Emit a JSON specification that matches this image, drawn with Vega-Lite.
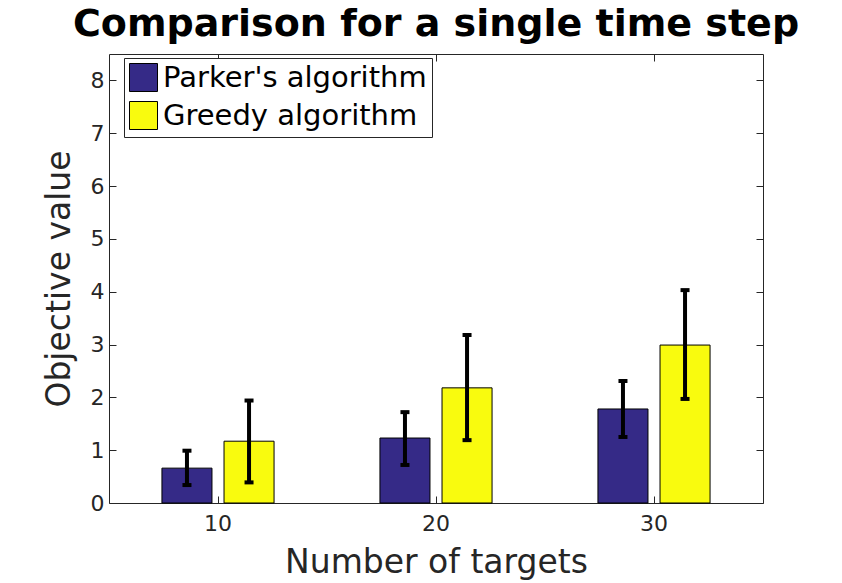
{
  "$schema": "https://vega.github.io/schema/vega-lite/v6.json",
  "width": 654,
  "height": 449,
  "autosize": {"type": "none"},
  "padding": {"left": 109, "top": 54, "right": 79, "bottom": 80},
  "background": "white",
  "config": {
    "font": "DejaVu Sans",
    "view": {"stroke": "#262626", "strokeWidth": 1},
    "axis": {"grid": false, "domainColor": "#262626", "tickColor": "#262626", "labelColor": "#262626", "titleColor": "#262626", "labelFont": "DejaVu Sans", "titleFont": "DejaVu Sans", "titleFontWeight": "normal"}
  },
  "title": {"text": "Comparison for a single time step", "fontSize": 38, "fontWeight": "bold", "color": "black", "font": "DejaVu Sans", "offset": 10},
  "data": {"values": [
    {"targets": 10, "algorithm": "Parker's algorithm", "value": 0.66, "lo": 0.34, "hi": 0.99},
    {"targets": 10, "algorithm": "Greedy algorithm", "value": 1.17, "lo": 0.39, "hi": 1.94},
    {"targets": 20, "algorithm": "Parker's algorithm", "value": 1.23, "lo": 0.72, "hi": 1.72},
    {"targets": 20, "algorithm": "Greedy algorithm", "value": 2.18, "lo": 1.19, "hi": 3.18},
    {"targets": 30, "algorithm": "Parker's algorithm", "value": 1.78, "lo": 1.25, "hi": 2.31},
    {"targets": 30, "algorithm": "Greedy algorithm", "value": 2.99, "lo": 1.97, "hi": 4.03}
  ]},
  "resolve": {"axis": {"x": "independent", "y": "independent"}},
  "layer": [
    {
      "mark": {"type": "bar", "stroke": "black", "strokeWidth": 1},
      "encoding": {
        "x": {"field": "targets", "type": "ordinal", "scale": {"paddingInner": 0, "paddingOuter": 0},
              "axis": {"orient": "bottom", "title": "Number of targets", "labelAngle": 0, "labelFontSize": 22, "titleFontSize": 33, "tickSize": -7, "labelPadding": 17, "titlePadding": 12, "domain": false}},
        "xOffset": {"field": "algorithm", "type": "nominal", "sort": ["Parker's algorithm", "Greedy algorithm"], "scale": {"paddingInner": 0.194, "paddingOuter": 0.853}},
        "y": {"field": "value", "type": "quantitative", "scale": {"domain": [0, 8.5], "nice": false},
              "axis": {"orient": "left", "title": "Objective value", "values": [0,1,2,3,4,5,6,7,8], "labelFontSize": 22, "titleFontSize": 33, "tickSize": -7, "labelPadding": 12, "titlePadding": 14, "domain": false}},
        "color": {"field": "algorithm", "type": "nominal", "sort": ["Parker's algorithm", "Greedy algorithm"],
                  "scale": {"domain": ["Parker's algorithm", "Greedy algorithm"], "range": ["#352a87", "#f9fb0e"]},
                  "legend": {"title": null, "orient": "none", "legendX": 15, "legendY": 4, "symbolType": "square", "symbolSize": 784, "symbolStrokeColor": "black", "symbolStrokeWidth": 1, "symbolOpacity": 1, "labelFontSize": 29, "labelLimit": 0, "labelColor": "black", "labelFont": "DejaVu Sans", "strokeColor": "#262626", "fillColor": "white", "padding": 5, "rowPadding": 5, "symbolOffset": 0, "labelOffset": 5}}
      }
    },
    {
      "mark": {"type": "rule", "color": "black", "strokeWidth": 4},
      "encoding": {
        "x": {"field": "targets", "type": "ordinal", "axis": {"orient": "top", "labels": false, "title": null, "tickSize": -7, "domain": false}},
        "xOffset": {"field": "algorithm", "type": "nominal", "sort": ["Parker's algorithm", "Greedy algorithm"]},
        "y": {"field": "lo", "type": "quantitative", "axis": {"orient": "right", "labels": false, "title": null, "values": [0,1,2,3,4,5,6,7,8], "tickSize": -7, "domain": false}},
        "y2": {"field": "hi"}
      }
    },
    {
      "mark": {"type": "tick", "color": "black", "size": 9, "thickness": 4, "opacity": 1},
      "encoding": {
        "x": {"field": "targets", "type": "ordinal", "axis": null},
        "xOffset": {"field": "algorithm", "type": "nominal", "sort": ["Parker's algorithm", "Greedy algorithm"]},
        "y": {"field": "lo", "type": "quantitative", "axis": null}
      }
    },
    {
      "mark": {"type": "tick", "color": "black", "size": 9, "thickness": 4, "opacity": 1},
      "encoding": {
        "x": {"field": "targets", "type": "ordinal", "axis": null},
        "xOffset": {"field": "algorithm", "type": "nominal", "sort": ["Parker's algorithm", "Greedy algorithm"]},
        "y": {"field": "hi", "type": "quantitative", "axis": null}
      }
    }
  ]
}
